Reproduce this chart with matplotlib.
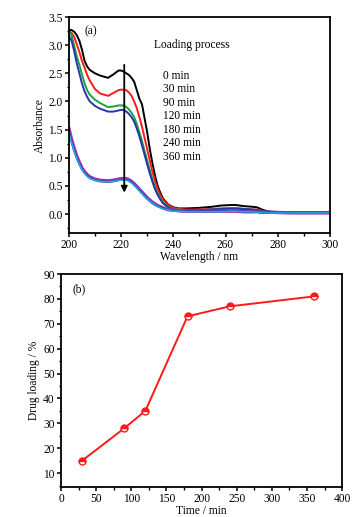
import matplotlib.pyplot as plt
from matplotlib.ticker import MultipleLocator

plt.rcParams['font.family'] = ['Liberation Serif', 'DejaVu Serif']
plt.rcParams['font.size'] = 8.3

# (a) UV-vis spectra during loading
wl = [200, 201, 202, 203, 204, 205, 206, 207, 208, 210, 212, 215, 217, 219, 220, 221,
      222, 223, 224, 225, 226, 227, 228, 229, 230, 231, 232, 233, 234, 235, 236, 238,
      240, 242, 245, 250, 255, 258, 262, 264, 267, 270, 272, 274, 276, 278, 285, 300]

abs_0 = [3.27, 3.27, 3.24, 3.18, 3.08, 2.92, 2.72, 2.62, 2.56, 2.5, 2.46, 2.42, 2.48, 2.55, 2.55, 2.53,
         2.5, 2.47, 2.42, 2.35, 2.2, 2.05, 1.95, 1.7, 1.45, 1.15, 0.9, 0.68, 0.5, 0.38, 0.28, 0.17,
         0.12, 0.1, 0.1, 0.11, 0.13, 0.15, 0.16, 0.16, 0.14, 0.13, 0.12, 0.08, 0.05, 0.04, 0.03, 0.03]
abs_30 = [3.25, 3.22, 3.15, 3.02, 2.88, 2.72, 2.6, 2.47, 2.37, 2.22, 2.14, 2.1, 2.15, 2.2, 2.21, 2.21,
          2.2, 2.16, 2.1, 2.0, 1.88, 1.72, 1.55, 1.35, 1.15, 0.95, 0.75, 0.58, 0.45, 0.34, 0.26, 0.16,
          0.11, 0.09, 0.08, 0.08, 0.09, 0.1, 0.1, 0.1, 0.09, 0.08, 0.08, 0.06, 0.04, 0.03, 0.03, 0.03]
abs_90 = [3.25, 3.18, 3.0, 2.8, 2.65, 2.48, 2.32, 2.2, 2.12, 2.03, 1.97, 1.9, 1.91, 1.93, 1.93, 1.93,
          1.9, 1.86, 1.8, 1.72, 1.6, 1.45, 1.3, 1.12, 0.95, 0.78, 0.62, 0.48, 0.37, 0.28, 0.21, 0.13,
          0.09, 0.08, 0.07, 0.07, 0.08, 0.09, 0.1, 0.1, 0.09, 0.08, 0.07, 0.05, 0.04, 0.03, 0.03, 0.03]
abs_120 = [3.17, 3.08, 2.9, 2.68, 2.5, 2.32, 2.18, 2.08, 2.0, 1.92, 1.87, 1.82, 1.82, 1.84, 1.85, 1.85,
           1.82, 1.78, 1.72, 1.64, 1.52, 1.38, 1.22, 1.05, 0.88, 0.72, 0.57, 0.44, 0.34, 0.26, 0.19, 0.12,
           0.08, 0.07, 0.07, 0.07, 0.08, 0.09, 0.1, 0.1, 0.09, 0.08, 0.07, 0.05, 0.04, 0.03, 0.03, 0.03]
abs_180 = [1.52, 1.33, 1.17, 1.03, 0.92, 0.82, 0.75, 0.7, 0.66, 0.62, 0.6, 0.59, 0.6, 0.62, 0.63, 0.63,
           0.63, 0.61, 0.58, 0.54, 0.49, 0.44, 0.39, 0.34, 0.29, 0.25, 0.21, 0.18, 0.15, 0.13, 0.11, 0.08,
           0.07, 0.06, 0.05, 0.05, 0.05, 0.05, 0.05, 0.05, 0.04, 0.04, 0.04, 0.03, 0.03, 0.03, 0.02, 0.02]
abs_240 = [1.47, 1.29, 1.13, 1.0, 0.89, 0.8, 0.73, 0.68, 0.64, 0.6, 0.58, 0.57, 0.58, 0.6, 0.61, 0.61,
           0.61, 0.59, 0.56, 0.52, 0.47, 0.42, 0.37, 0.32, 0.27, 0.23, 0.19, 0.16, 0.14, 0.12, 0.1, 0.07,
           0.06, 0.05, 0.05, 0.05, 0.05, 0.05, 0.06, 0.06, 0.05, 0.04, 0.04, 0.03, 0.03, 0.03, 0.02, 0.02]
abs_360 = [1.45, 1.27, 1.12, 0.99, 0.88, 0.79, 0.72, 0.67, 0.63, 0.6, 0.58, 0.57, 0.58, 0.6, 0.6, 0.6,
           0.6, 0.58, 0.55, 0.51, 0.46, 0.41, 0.36, 0.31, 0.27, 0.23, 0.19, 0.16, 0.13, 0.11, 0.09, 0.07,
           0.05, 0.05, 0.04, 0.04, 0.04, 0.04, 0.05, 0.05, 0.04, 0.04, 0.03, 0.03, 0.02, 0.02, 0.02, 0.02]

spectra = [abs_0, abs_30, abs_90, abs_120, abs_180, abs_240, abs_360]
labels = ['0 min', '30 min', '90 min', '120 min', '180 min', '240 min', '360 min']
colors = ['black', '#ff1a1a', '#1aa33a', '#2a35a8', '#a030b0', '#3048c0', '#20b0e0']
widths = [1.4, 1.4, 1.4, 1.4, 2.4, 1.5, 1.0]

# (b) drug loading vs time
time_min = [30, 90, 120, 180, 240, 360]
loading = [15, 28, 35, 73, 77, 81]

fig = plt.figure(figsize=(3.59, 5.17), dpi=100)

ax1 = fig.add_axes([0.192, 0.549, 0.727, 0.418])
for y, c, w in zip(spectra, colors, widths):
    ax1.plot(wl, y, color=c, lw=w)
ax1.set_xlim(200, 300)
ax1.set_ylim(-0.34, 3.5)
ax1.xaxis.set_major_locator(MultipleLocator(20))
ax1.xaxis.set_minor_locator(MultipleLocator(10))
ax1.yaxis.set_major_locator(MultipleLocator(0.5))
ax1.yaxis.set_minor_locator(MultipleLocator(0.25))
ax1.set_xlabel('Wavelength / nm', labelpad=0)
ax1.set_ylabel('Absorbance', labelpad=2)
ax1.annotate('', xy=(221.2, 0.33), xytext=(221.2, 2.7),
             arrowprops=dict(arrowstyle='-|>', color='black', lw=1.3, mutation_scale=9))
ax1.text(206, 3.24, '(a)', va='center')
ax1.text(232.5, 3.0, 'Loading process', va='center')
for i, lab in enumerate(labels):
    ax1.text(236.2, 2.46 - i * 0.24, lab, va='center')

ax2 = fig.add_axes([0.170, 0.058, 0.783, 0.412])
ax2.plot(time_min, loading, color='#ff1a1a', lw=1.4, marker='o', ms=5,
         fillstyle='top', markerfacecolor='#ff1a1a', markerfacecoloralt='white',
         markeredgecolor='#ff1a1a', markeredgewidth=1.0)
ax2.set_xlim(0, 400)
ax2.set_ylim(4.4, 90)
ax2.xaxis.set_major_locator(MultipleLocator(50))
ax2.xaxis.set_minor_locator(MultipleLocator(25))
ax2.yaxis.set_major_locator(MultipleLocator(10))
ax2.yaxis.set_minor_locator(MultipleLocator(5))
ax2.set_yticks(range(10, 91, 10))
ax2.set_xlabel('Time / min', labelpad=0)
ax2.set_ylabel('Drug loading / %', labelpad=2)
ax2.text(17, 84, '(b)', va='center')

for ax in (ax1, ax2):
    for s in ax.spines.values():
        s.set_linewidth(1.3)
    ax.tick_params(which='major', direction='out', length=3, width=1.1, pad=1.5)
    ax.tick_params(which='minor', direction='out', length=1.8, width=1.0)

fig.savefig('out.png', dpi=100)
